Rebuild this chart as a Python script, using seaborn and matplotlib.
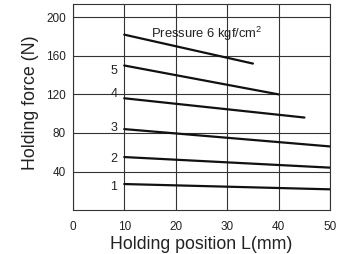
import pandas as pd
import seaborn as sns
import matplotlib.pyplot as plt

# holding force vs holding position, one line per pressure (kgf/cm2)
pressures = ["1", "2", "3", "4", "5", "6"]
pos_start = [10, 10, 10, 10, 10, 10]
pos_end = [50, 50, 50, 45, 40, 35]
force_start = [27, 55, 84, 116, 150, 182]
force_end = [21.5, 44, 66, 96, 120, 152]
label_y = [24, 53, 85, 120, 144]

rows = []
for p, x0, x1, y0, y1 in zip(pressures, pos_start, pos_end, force_start, force_end):
    rows.append({"pressure": p, "L": x0, "force": y0})
    rows.append({"pressure": p, "L": x1, "force": y1})
df = pd.DataFrame(rows)

sns.set_style("white")
plt.rcParams["font.family"] = ["Liberation Sans", "DejaVu Sans"]
plt.rcParams["mathtext.fontset"] = "custom"
plt.rcParams["mathtext.rm"] = "Liberation Sans"

fig, ax = plt.subplots(figsize=(3.55, 2.54), dpi=100)
sns.lineplot(data=df, x="L", y="force", hue="pressure", units="pressure",
             estimator=None, palette=["#111111"] * 6, linewidth=1.6,
             legend=False, ax=ax)

ax.set_xlim(0, 50)
ax.set_ylim(0, 214)
ax.set_xticks([0, 10, 20, 30, 40, 50])
ax.set_yticks([40, 80, 120, 160, 200])
ax.tick_params(labelsize=8.5, length=0, labelcolor="#222222")
ax.tick_params(axis="x", pad=8)
ax.tick_params(axis="y", pad=5)
ax.grid(True, color="#333333", linewidth=0.8)
for s in ax.spines.values():
    s.set_color("#333333")
    s.set_linewidth(0.8)

ax.set_xlabel("Holding position L(mm)", fontsize=12.8, labelpad=2, color="#222222")
ax.set_ylabel("Holding force (N)", fontsize=12.8, color="#222222")
ax.yaxis.set_label_coords(-0.132, 0.52)

# curve labels
for p, y in zip(pressures[:5], label_y):
    ax.text(8, y, p, fontsize=9, ha="center", va="center", color="#222222")
ax.text(15.2, 183, "Pressure 6 kgf/cm$^\\mathregular{2}$", fontsize=9.4,
        va="center", color="#222222")

plt.subplots_adjust(left=0.205, right=0.93, top=0.985, bottom=0.173)
plt.savefig("out.png")
